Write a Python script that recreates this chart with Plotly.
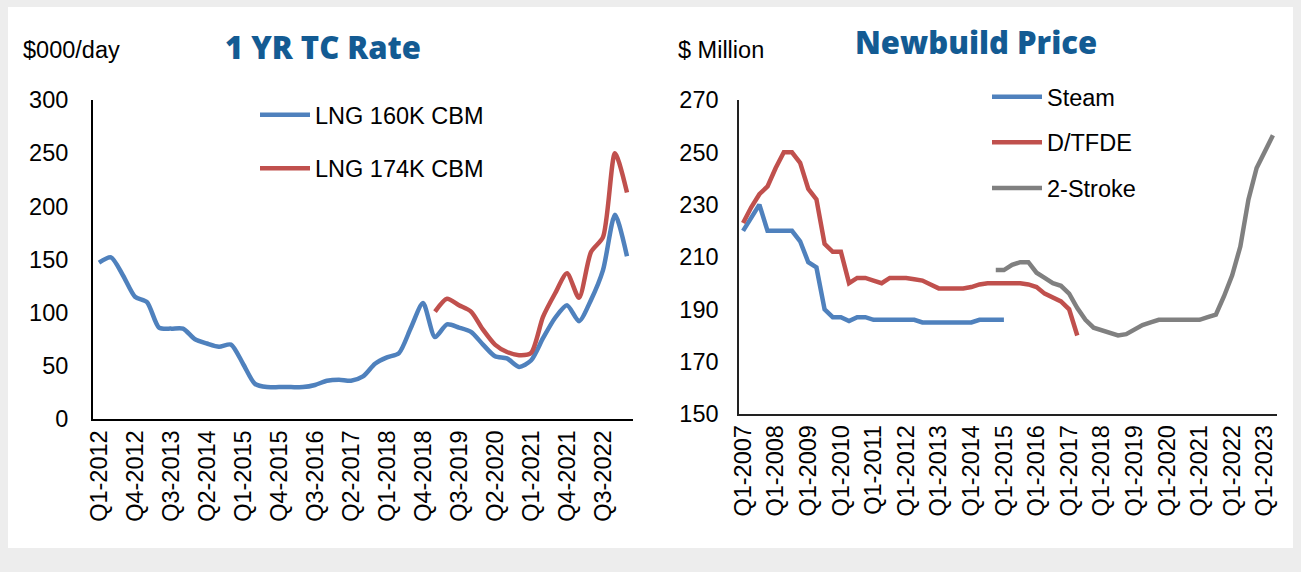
import plotly.graph_objects as go

W, H = 1301, 572

# ---------------- Data ----------------
tc_quarters = [f"Q{q}-{y}" for y in range(2012, 2024) for q in (1, 2, 3, 4)][:45]   # Q1-2012 .. Q1-2023
tc_ticks = tc_quarters[::3]

lng_160k = [147, 152, 135, 115, 110, 86, 85, 85, 75, 71, 68, 70, 52, 33, 30,
            30, 30, 30, 32, 36, 37, 36, 40, 52, 58, 62, 86, 109, 77, 89,
            86, 82, 70, 59, 57, 49, 55, 76, 95, 107, 92, 112, 140, 192, 153]
lng_174k_start = 28   # first quarter with a 174K CBM rate
lng_174k = [101, 113, 107, 101, 84, 70, 63, 60, 62, 96, 118, 137, 114, 157, 171, 250, 213]

nb_quarters = [f"Q{q}-{y}" for y in range(2007, 2024) for q in (1, 2, 3, 4)][:66]   # Q1-2007 .. Q2-2023
nb_ticks = nb_quarters[::4]

steam = [220, 225, 230, 220, 220, 220, 220, 216, 208, 206, 190, 187, 187, 185.5, 187,
         187, 186, 186, 186, 186, 186, 186, 185, 185, 185, 185, 185, 185, 185, 186,
         186, 186, 186]
dtfde = [223, 229, 234, 237, 244, 250, 250, 246, 236, 232, 215, 212, 212, 200, 202,
         202, 201, 200, 202, 202, 202, 201.5, 201, 199.5, 198, 198, 198, 198, 198.5, 199.5,
         200, 200, 200, 200, 200, 199.5, 198.5, 196, 194.5, 193, 190, 180]
two_stroke_start = 31
two_stroke = [205, 205, 207, 208, 208, 204, 202, 200, 199, 196, 190.5, 186, 183, 182, 181,
              180, 180.5, 182.5, 184, 185, 186, 186, 186, 186, 186, 186, 187, 188, 195, 203,
              214, 232, 244, 250.5, 256.5]

BLUE, RED, GREY = "#4F81BD", "#C0504D", "#808080"
TITLE_BLUE = "#135B93"
FONT = "Arial, 'Liberation Sans', sans-serif"
TITLE_FONT = "'Open Sans', Roboto, Arial, sans-serif"
FS = 23.5

fig = go.Figure()

# Left chart
fig.add_trace(go.Scatter(x=tc_quarters, y=lng_160k, name="LNG 160K CBM", mode="lines",
                         line=dict(color=BLUE, width=4.5, shape="spline", smoothing=0.7),
                         xaxis="x", yaxis="y", legend="legend", legendgroup="a"))
fig.add_trace(go.Scatter(x=tc_quarters[lng_174k_start:lng_174k_start + len(lng_174k)], y=lng_174k,
                         name="LNG 174K CBM", mode="lines",
                         line=dict(color=RED, width=4.5, shape="spline", smoothing=0.7),
                         xaxis="x", yaxis="y", legend="legend", legendgroup="b"))

# Right chart
fig.add_trace(go.Scatter(x=nb_quarters[:len(steam)], y=steam, name="Steam", mode="lines",
                         line=dict(color=BLUE, width=4.5),
                         xaxis="x2", yaxis="y2", legend="legend2", legendgroup="c"))
fig.add_trace(go.Scatter(x=nb_quarters[:len(dtfde)], y=dtfde, name="D/TFDE", mode="lines",
                         line=dict(color=RED, width=4.5),
                         xaxis="x2", yaxis="y2", legend="legend2", legendgroup="d"))
fig.add_trace(go.Scatter(x=nb_quarters[two_stroke_start:two_stroke_start + len(two_stroke)], y=two_stroke,
                         name="2-Stroke", mode="lines",
                         line=dict(color=GREY, width=4.5),
                         xaxis="x2", yaxis="y2", legend="legend2", legendgroup="e"))

def px_x(v):
    return v / W

def px_y(v):
    return 1 - v / H

axis_font = dict(family=FONT, size=FS, color="#000")
common_axis = dict(showgrid=False, zeroline=False, ticks="", automargin=False, tickfont=axis_font)

fig.update_layout(
    width=W, height=H,
    margin=dict(l=0, r=0, t=0, b=0, pad=0, autoexpand=False),
    paper_bgcolor="#ededed",
    plot_bgcolor="rgba(0,0,0,0)",
    font=dict(family=FONT, size=FS, color="#000"),
    xaxis=dict(domain=[px_x(93), px_x(633)], type="category", categoryorder="array",
               categoryarray=tc_quarters, range=[-0.5, len(tc_quarters) - 0.5],
               tickmode="array", tickvals=tc_ticks, ticktext=tc_ticks, tickangle=-90,
               showline=True, linecolor="#000", linewidth=2, anchor="y", **common_axis),
    yaxis=dict(domain=[px_y(419), px_y(100)], range=[0, 300], tick0=0, dtick=50,
               showline=True, linecolor="#000", linewidth=2, anchor="x",
               ticklabelstandoff=18, **common_axis),
    xaxis2=dict(domain=[px_x(739), px_x(1277)], type="category", categoryorder="array",
                categoryarray=nb_quarters, range=[-0.5, len(nb_quarters) - 0.5],
                tickmode="array", tickvals=nb_ticks, ticktext=nb_ticks, tickangle=-90,
                showline=True, linecolor="#222", linewidth=1.5, anchor="y2", **common_axis),
    yaxis2=dict(domain=[px_y(414), px_y(100)], range=[150, 270], tick0=150, dtick=20,
                showline=True, linecolor="#222", linewidth=1.5, anchor="x2",
                ticklabelstandoff=14, **common_axis),
    legend=dict(x=px_x(255), y=px_y(93), xanchor="left", yanchor="top",
                bgcolor="rgba(0,0,0,0)", font=dict(family=FONT, size=FS, color="#000"),
                itemwidth=50, tracegroupgap=20, traceorder="grouped"),
    legend2=dict(x=px_x(987), y=px_y(75), xanchor="left", yanchor="top",
                 bgcolor="rgba(0,0,0,0)", font=dict(family=FONT, size=FS, color="#000"),
                 itemwidth=50, tracegroupgap=12, traceorder="grouped"),
    showlegend=True,
    shapes=[dict(type="rect", xref="paper", yref="paper", x0=px_x(8), x1=px_x(1293),
                 y0=px_y(548), y1=px_y(7), fillcolor="#ffffff", line=dict(width=0), layer="below")],
    annotations=[
        dict(text="$000/day", xref="paper", yref="paper", x=px_x(21), y=px_y(50),
             xanchor="left", yanchor="middle", showarrow=False, font=dict(family=FONT, size=FS, color="#000")),
        dict(text="1 YR TC Rate", xref="paper", yref="paper", x=px_x(323), y=px_y(47),
             xanchor="center", yanchor="middle", showarrow=False,
             font=dict(family=TITLE_FONT, size=31, color=TITLE_BLUE, weight=800)),
        dict(text="$ Million", xref="paper", yref="paper", x=px_x(676), y=px_y(50),
             xanchor="left", yanchor="middle", showarrow=False, font=dict(family=FONT, size=FS, color="#000")),
        dict(text="Newbuild Price", xref="paper", yref="paper", x=px_x(976), y=px_y(42),
             xanchor="center", yanchor="middle", showarrow=False,
             font=dict(family=TITLE_FONT, size=31, color=TITLE_BLUE, weight=800)),
    ],
)

fig.write_html("out.html", config={"displayModeBar": False},
               post_script="document.body.style.margin='0';document.body.style.overflow='hidden';")
